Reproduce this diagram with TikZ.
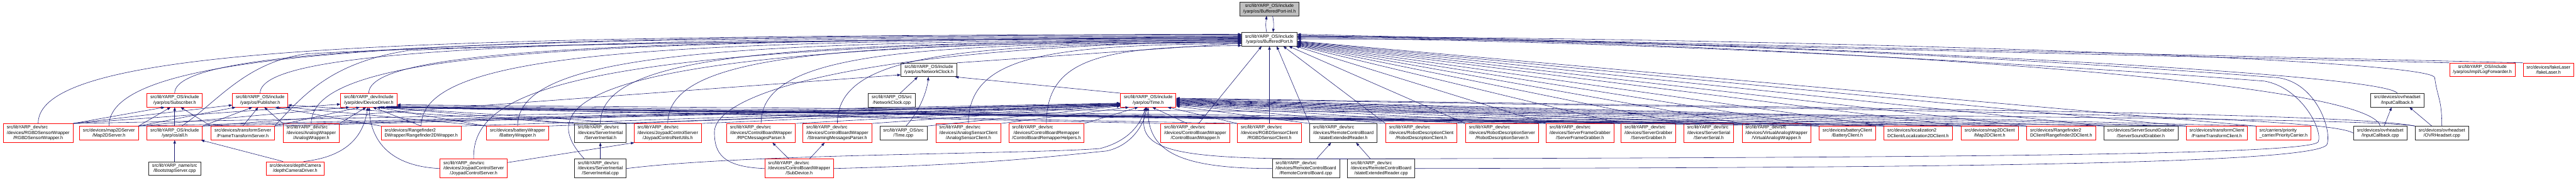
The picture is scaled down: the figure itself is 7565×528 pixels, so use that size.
\documentclass[tikz,border=0pt]{standalone}
\usepackage{fontspec}
\setmainfont{Liberation Sans}
\usepackage{xcolor}
\usetikzlibrary{arrows.meta,calc,positioning}

\definecolor{edgeblue}{HTML}{191970}
\definecolor{nodegray}{HTML}{BFBFBF}

\newcommand{\devsrc}{src/libYARP\_dev/src}
\newcommand{\threeline}[3]{\begin{tabular}{@{}c@{}}\multicolumn{1}{@{}l@{}}{#1}\\#2\\#3\end{tabular}}

\begin{document}
\begin{tikzpicture}[
    x=0.75pt, y=0.75pt,
    hdr/.style={rectangle, draw, line width=1pt, inner xsep=7.5pt, inner ysep=1pt, minimum height=30pt, align=center, font=\fontsize{10}{11.25}\selectfont},
    redbox/.style={hdr, draw=red},
    blkbox/.style={hdr, draw=black!85},
    curbox/.style={hdr, draw=black!85, fill=nodegray},
    tall/.style={minimum height=41.25pt},
    lft/.style={align=left},
    dep/.style={draw=edgeblue, line width=0.8pt, -{Triangle[length=7.5pt,width=5.5pt]}}
]
\useasboundingbox (0,0) rectangle (7565,528);

% the file itself and its cycle partner
\node[curbox] (inl) at (3728,502) {src/libYARP\_OS/include\\/yarp/os/BufferedPort-inl.h};
\node[blkbox] (bp) at (3728,413) {src/libYARP\_OS/include\\/yarp/os/BufferedPort.h};

% middle rows
\node[blkbox] (nclockh) at (2728,323) {src/libYARP\_OS/include\\/yarp/os/NetworkClock.h};
\node[redbox] (logfwd) at (7290,323) {src/libYARP\_OS/include\\/yarp/os/impl/LogForwarder.h};
\node[redbox] (fakelaser) at (7484,323) {src/devices/fakeLaser\\/fakeLaser.h};
\node[redbox] (subscriber) at (513,234) {src/libYARP\_OS/include\\/yarp/os/Subscriber.h};
\node[redbox] (publisher) at (764,234) {src/libYARP\_OS/include\\/yarp/os/Publisher.h};
\node[redbox] (devdriver) at (1083,234) {src/libYARP\_dev/include\\/yarp/dev/DeviceDriver.h};
\node[blkbox] (nclockcpp) at (2619,234) {src/libYARP\_OS/src\\/NetworkClock.cpp};
\node[redbox] (timeh) at (3372,234) {src/libYARP\_OS/include\\/yarp/os/Time.h};
\node[blkbox] (inputcbh) at (7040,234) {src/devices/ovrheadset\\/InputCallback.h};

% fourth row
\node[redbox, tall] (rgbdwrap) at (112,137.5) {\threeline{\devsrc}{/devices/RGBDSensorWrapper}{/RGBDSensorWrapper.h}};
\node[redbox] (map2dserver) at (320,137.5) {src/devices/map2DServer\\/Map2DServer.h};
\node[redbox] (allh) at (513,137.5) {src/libYARP\_OS/include\\/yarp/os/all.h};
\node[redbox] (ftserver) at (713,137.5) {src/devices/transformServer\\/FrameTransformServer.h};
\node[redbox, tall] (analogwrap) at (914,137.5) {\threeline{\devsrc}{/devices/AnalogWrapper}{/AnalogWrapper.h}};
\node[redbox, lft] (rfwrap) at (1237,137.5) {src/devices/Rangefinder2\\DWrapper/Rangefinder2DWrapper.h};
\node[redbox] (battwrap) at (1520,137.5) {src/devices/batteryWrapper\\/BatteryWrapper.h};
\node[blkbox, tall] (serverinerth) at (1763,137.5) {\threeline{\devsrc}{/devices/ServerInertial}{/ServerInertial.h}};
\node[redbox, tall] (joynet) at (1961,137.5) {\threeline{\devsrc}{/devices/JoypadControlServer}{/JoypadControlNetUtils.h}};
\node[redbox, tall] (rpcparser) at (2235,137.5) {\threeline{\devsrc}{/devices/ControlBoardWrapper}{/RPCMessagesParser.h}};
\node[redbox, tall] (streamparser) at (2459,137.5) {\threeline{\devsrc}{/devices/ControlBoardWrapper}{/StreamingMessagesParser.h}};
\node[blkbox] (timecpp) at (2653,137.5) {src/libYARP\_OS/src\\/Time.cpp};
\node[redbox, tall] (anclient) at (2844,137.5) {\threeline{\devsrc}{/devices/AnalogSensorClient}{/AnalogSensorClient.h}};
\node[redbox, tall] (cbremap) at (3073,137.5) {\threeline{\devsrc}{/devices/ControlBoardRemapper}{/ControlBoardRemapperHelpers.h}};
\node[redbox, tall] (cbwrap) at (3510,137.5) {\threeline{\devsrc}{/devices/ControlBoardWrapper}{/ControlBoardWrapper.h}};
\node[redbox, tall] (rgbdclient) at (3728,137.5) {\threeline{\devsrc}{/devices/RGBDSensorClient}{/RGBDSensorClient.h}};
\node[blkbox, tall] (sxreaderh) at (3945,137.5) {\threeline{\devsrc}{/devices/RemoteControlBoard}{/stateExtendedReader.h}};
\node[redbox, tall] (rdclient) at (4174,137.5) {\threeline{\devsrc}{/devices/RobotDescriptionClient}{/RobotDescriptionClient.h}};
\node[redbox, tall] (rdserver) at (4411,137.5) {\threeline{\devsrc}{/devices/RobotDescriptionServer}{/RobotDescriptionServer.h}};
\node[redbox, tall] (sfgrabber) at (4640,137.5) {\threeline{\devsrc}{/devices/ServerFrameGrabber}{/ServerFrameGrabber.h}};
\node[redbox, tall] (sgrabber) at (4841,137.5) {\threeline{\devsrc}{/devices/ServerGrabber}{/ServerGrabber.h}};
\node[redbox, tall] (sserial) at (5018,137.5) {\threeline{\devsrc}{/devices/ServerSerial}{/ServerSerial.h}};
\node[redbox, tall] (vawrap) at (5217,137.5) {\threeline{\devsrc}{/devices/VirtualAnalogWrapper}{/VirtualAnalogWrapper.h}};
\node[redbox] (battclient) at (5425,137.5) {src/devices/batteryClient\\/BatteryClient.h};
\node[redbox, lft] (locclient) at (5633,137.5) {src/devices/localization2\\DClient/Localization2DClient.h};
\node[redbox] (map2dclient) at (5843,137.5) {src/devices/map2DClient\\/Map2DClient.h};
\node[redbox, lft] (rfclient) at (6053,137.5) {src/devices/Rangefinder2\\DClient/Rangefinder2DClient.h};
\node[blkbox] (ssgrabber) at (6287,137.5) {src/devices/ServerSoundGrabber\\/ServerSoundGrabber.h};
\node[redbox] (ftclient) at (6510,137.5) {src/devices/transformClient\\/FrameTransformClient.h};
\node[redbox, lft] (prio) at (6706,137.5) {src/carriers/priority\\\_carrier/PriorityCarrier.h};
\node[blkbox] (inputcbcpp) at (6990,137.5) {src/devices/ovrheadset\\/InputCallback.cpp};
\node[blkbox] (ovrcpp) at (7171,137.5) {src/devices/ovrheadset\\/OVRHeadset.cpp};

% bottom row
\node[blkbox] (bootstrap) at (513,33.5) {src/libYARP\_name/src\\/BootstrapServer.cpp};
\node[redbox] (depthcam) at (867,33.5) {src/devices/depthCamera\\/depthCameraDriver.h};
\node[redbox, tall] (joyserver) at (1391,33.5) {\threeline{\devsrc}{/devices/JoypadControlServer}{/JoypadControlServer.h}};
\node[blkbox, tall] (serverinertcpp) at (1763,33.5) {\threeline{\devsrc}{/devices/ServerInertial}{/ServerInertial.cpp}};
\node[redbox, tall] (subdevice) at (2347,33.5) {\threeline{\devsrc}{/devices/ControlBoardWrapper}{/SubDevice.h}};
\node[blkbox, tall] (rcbcpp) at (3835,33.5) {\threeline{\devsrc}{/devices/RemoteControlBoard}{/RemoteControlBoard.cpp}};
\node[blkbox, tall] (sxreadercpp) at (4056,33.5) {\threeline{\devsrc}{/devices/RemoteControlBoard}{/stateExtendedReader.cpp}};

% cycle between the two BufferedPort headers
\draw[dep] (bp.112) .. controls +(-4,20) and +(-2,-18) .. (inl.248);
\draw[dep] (inl.294) .. controls +(4,-20) and +(2,18) .. (bp.63);

% into BufferedPort.h from the left
\foreach \s/\a in {rgbdwrap/170, map2dserver/171, subscriber/173, publisher/175, devdriver/177, analogwrap/178, rfwrap/179, battwrap/181, serverinerth/183, joynet/185, rpcparser/186, streamparser/187, anclient/189, cbremap/193}
  \draw[dep] let \p1=(\s.north), \p2=(bp.\a) in
    (\p1) .. controls (\x1,{\y2-25pt}) and ({\x1+0.3*(\x2-\x1)},{\y2-3pt}) .. (\p2);
\coordinate (allhup) at (900,370);
\draw[dep] (allh.45) .. controls (640,230) and (720,345) .. (allhup) .. controls (1500,405) and (3000,412) .. (bp.174);
\coordinate (ftup) at (1200,380);
\draw[dep] (ftserver.north east) .. controls (900,260) and (980,345) .. (ftup) .. controls (1800,408) and (3000,412) .. (bp.176);
\draw[dep] (joyserver.north) .. controls (1385,270) and (1700,400) .. (bp.180);
\draw[dep] (serverinertcpp.149) .. controls (1560,230) and (1700,400) .. (bp.182);
\coordinate (subgap) at (2098,140);
\draw[dep] (subdevice.west) .. controls (2120,38) and (2098,80) .. (subgap) .. controls (2098,250) and (2500,390) .. (bp.184);
\draw[dep] (nclockh.north east) -- (bp.188);

% into BufferedPort.h from the right
\draw[dep] (cbwrap.70) -- (bp.222);
\draw[dep] (rgbdclient.north) -- (bp.south);
\foreach \s/\a in {sxreaderh/316, rdclient/333, rdserver/340, sfgrabber/345, sgrabber/347, sserial/348, vawrap/349, battclient/350, locclient/351, map2dclient/352, rfclient/353, ssgrabber/354, ftclient/355, prio/356, logfwd/8, fakelaser/10}
  \draw[dep] (\s.north west) -- (bp.\a);
\draw[dep] (inputcbh.north) .. controls +(-50,70) and +(900,0) .. (bp.6);
\draw[dep] (inputcbcpp.north) .. controls +(-40,160) and +(900,0) .. (bp.4);
\coordinate (ovrbend) at (7150,300);
\draw[dep] (ovrcpp.north) .. controls +(0,80) and +(8,-60) .. (ovrbend) .. controls +(-8,60) and +(1200,0) .. (bp.5);
\coordinate (rcbturn) at (6808,112);
\coordinate (rcbtop) at (6650,290);
\draw[dep] (rcbcpp.north east) .. controls (5500,66) and (6790,70) .. (rcbturn) .. controls (6822,145) and (6760,270) .. (rcbtop) .. controls (6000,340) and (4800,410) .. (bp.2);
\coordinate (sxrturn) at (6834,105);
\coordinate (sxrtop) at (6690,300);
\draw[dep] (sxreadercpp.east) .. controls (5500,36) and (6815,42) .. (sxrturn) .. controls (6848,150) and (6800,285) .. (sxrtop) .. controls (6100,345) and (4900,420) .. (bp.0);

% into Time.h
\foreach \s/\a in {rgbdwrap/186, map2dserver/187, allh/187, ftserver/188, analogwrap/188, rfwrap/189, battwrap/189, serverinerth/190, joynet/190, rpcparser/191, streamparser/191, timecpp/192, anclient/200, cbremap/215}
  \draw[dep] (\s.north east) -- (timeh.\a);
\draw[dep] (cbwrap.130) -- (timeh.300);
\draw[dep] (rgbdclient.north west) -- (timeh.340);
\foreach \s/\a in {sxreaderh/348, rdclient/350, rdserver/351, sfgrabber/352, sgrabber/353, sserial/354, vawrap/355, battclient/356, locclient/357, map2dclient/358, rfclient/359, ssgrabber/0, ftclient/1, prio/2}
  \draw[dep] (\s.north west) -- (timeh.\a);
\draw[dep] (inputcbcpp.west) .. controls +(-100,60) and +(1800,-30) .. (timeh.3);
\draw[dep] (ovrcpp.north west) .. controls +(-200,40) and +(2000,-30) .. (timeh.4);
\coordinate (sigap) at (3230,92);
\draw[dep] (serverinertcpp.east) .. controls (2200,78) and (3000,75) .. (sigap) .. controls (3300,110) and (3345,150) .. (timeh.250);
\coordinate (sdgap) at (3250,85);
\draw[dep] (subdevice.east) .. controls (2900,45) and (3100,70) .. (sdgap) .. controls (3320,100) and (3360,160) .. (timeh.258);
\draw[dep] (rcbcpp.west) .. controls (3450,33.5) and (3372,90) .. (timeh.268);
\draw[dep] (sxreadercpp.north west) .. controls (3450,60) and (3330,80) .. (timeh.255);

% into DeviceDriver.h
\draw[dep] (rgbdwrap.north east) -- (devdriver.188);
\draw[dep] (map2dserver.north east) -- (devdriver.200);
\draw[dep] (ftserver.north east) -- (devdriver.218);
\draw[dep] (analogwrap.north east) -- (devdriver.250);
\draw[dep] (rfwrap.north) -- (devdriver.300);
\draw[dep] (depthcam.40) .. controls (1040,70) and (1070,150) .. (devdriver.262);
\draw[dep] (joyserver.west) .. controls (1150,40) and (1090,110) .. (devdriver.272);
\foreach \s/\a in {battwrap/318, serverinerth/325, joynet/330, cbwrap/336, rgbdclient/338, sfgrabber/340, sgrabber/341, sserial/342, vawrap/343, battclient/344, locclient/345, map2dclient/346, rfclient/347, ftclient/349}
  \draw[dep] (\s.north west) -- (devdriver.\a);
\draw[dep] (ovrcpp.north west) .. controls +(-200,35) and +(2500,-25) .. (devdriver.351);

% into Publisher.h and Subscriber.h
\draw[dep] (rgbdwrap.north east) -- (publisher.190);
\draw[dep] (map2dserver.north east) -- (publisher.196);
\draw[dep] (allh.north east) -- (publisher.222);
\draw[dep] (ftserver.north) -- (publisher.255);
\draw[dep] (analogwrap.north west) -- (publisher.300);
\draw[dep] (rfwrap.north west) -- (publisher.335);
\draw[dep] (battwrap.north west) -- (publisher.345);
\draw[dep] (serverinerth.north west) -- (publisher.350);
\draw[dep] (rgbdwrap.north east) -- (subscriber.215);
\draw[dep] (map2dserver.north east) -- (subscriber.240);
\draw[dep] (allh.north) -- (subscriber.south);
\draw[dep] (ftserver.north west) -- (subscriber.310);

% into NetworkClock.h
\draw[dep] (nclockcpp.40) -- (nclockh.212);
\draw[dep] (timecpp.70) .. controls (2700,200) and (2722,260) .. (nclockh.266);
\draw[dep] (timeh.north west) -- (nclockh.345);
\draw[dep] (allh.north east) -- (nclockh.190);

% short links near the bottom
\draw[dep] (bootstrap.north) -- (allh.south);
\draw[dep] (depthcam.150) -- (allh.345);
\draw[dep] (joyserver.10) -- (joynet.196);
\draw[dep] (subdevice.137) -- (rpcparser.320);
\draw[dep] (subdevice.43) -- (streamparser.217);
\draw[dep] (serverinertcpp.north) -- (serverinerth.south);
\draw[dep] (rcbcpp.42) -- (sxreaderh.218);
\draw[dep] (sxreadercpp.138) -- (sxreaderh.323);
\draw[dep] (inputcbcpp.61) -- (inputcbh.231);
\draw[dep] (ovrcpp.145) -- (inputcbh.330);

\end{tikzpicture}
\end{document}
